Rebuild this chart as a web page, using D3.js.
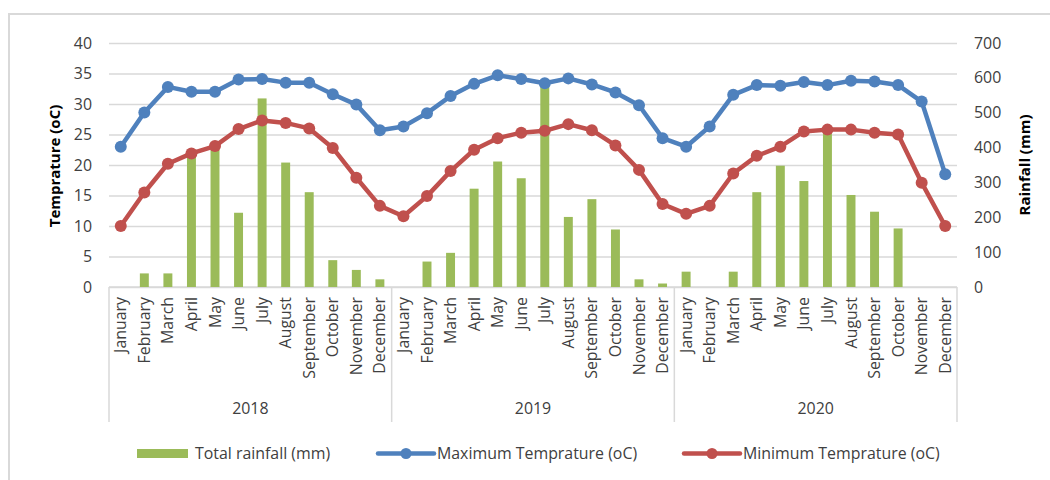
<!DOCTYPE html>
<html>
<head>
<meta charset="utf-8">
<script src="https://cdn.jsdelivr.net/npm/d3@7"></script>
<style>
  body { margin: 0; background: #fff; }
  svg { font-family: "Open Sans", sans-serif; }
</style>
</head>
<body>
<svg id="chart"></svg>
<script>
// Monthly climate data, 2018-2020
const years = ['2018', '2019', '2020'];
const months = ['January', 'February', 'March', 'April', 'May', 'June', 'July',
  'August', 'September', 'October', 'November', 'December'];

const rainfall = [
  0, 39, 39, 375, 395, 213, 541, 357, 272, 77, 49, 22,
  0, 73, 98, 282, 360, 312, 575, 201, 252, 165, 22, 10,
  44, 0, 44, 272, 348, 304, 445, 264, 216, 168, 0, 0
];
const maxTemp = [
  23.0, 28.6, 32.8, 32.0, 32.0, 34.0, 34.1, 33.5, 33.5, 31.6, 29.9, 25.7,
  26.3, 28.5, 31.3, 33.3, 34.7, 34.1, 33.4, 34.2, 33.2, 31.9, 29.8, 24.4,
  23.0, 26.3, 31.5, 33.1, 33.0, 33.6, 33.1, 33.8, 33.7, 33.1, 30.4, 18.5
];
const minTemp = [
  10.0, 15.5, 20.2, 21.9, 23.1, 25.9, 27.3, 26.9, 26.0, 22.8, 17.9, 13.3,
  11.6, 14.9, 19.0, 22.5, 24.4, 25.3, 25.6, 26.7, 25.7, 23.2, 19.2, 13.6,
  12.0, 13.3, 18.6, 21.5, 23.0, 25.5, 25.8, 25.8, 25.3, 25.0, 17.1, 10.0
];

const tempTicks = [0, 5, 10, 15, 20, 25, 30, 35, 40];
const rainTicks = [0, 100, 200, 300, 400, 500, 600, 700];

const seriesNames = ['Total rainfall (mm)', 'Maximum Temprature (oC)', 'Minimum Temprature (oC)'];
const colors = { rain: '#9BBB59', max: '#4F81BD', min: '#C0504D' };

const width = 1050, height = 480;
const plot = { left: 109, right: 957, top: 43, bottom: 287 };
const fontSize = '15.9px';

const svg = d3.select('#chart')
  .attr('width', width)
  .attr('height', height);

// Outer chart frame (runs off the right and bottom edge)
svg.append('path')
  .attr('d', `M9,${height + 5}V14H${width + 5}`)
  .attr('fill', 'none')
  .attr('stroke', '#D9D9D9')
  .attr('stroke-width', 2);

const cats = [];
years.forEach(y => months.forEach(m => cats.push({ year: y, month: m, key: `${y}-${m}` })));
cats.forEach((c, i) => {
  c.rain = rainfall[i];
  c.max = maxTemp[i];
  c.min = minTemp[i];
});

const x = d3.scaleBand()
  .domain(cats.map(c => c.key))
  .range([plot.left, plot.right])
  .paddingInner(0.62)
  .paddingOuter(0.31);
const cx = k => x(k) + x.bandwidth() / 2;
const step = x.step();

const yTemp = d3.scaleLinear().domain([0, 40]).range([plot.bottom, plot.top]);
const yRain = d3.scaleLinear().domain([0, 700]).range([plot.bottom, plot.top]);

// Grid lines
svg.append('g')
  .attr('transform', `translate(${plot.left},0)`)
  .call(d3.axisLeft(yTemp).tickValues(tempTicks).tickSize(-(plot.right - plot.left)).tickFormat(''))
  .call(g => g.select('.domain').remove())
  .call(g => g.selectAll('line').attr('stroke', '#D9D9D9').attr('stroke-width', 1.3));

// Left axis labels
svg.append('g')
  .attr('transform', `translate(${plot.left - 17},0)`)
  .call(d3.axisLeft(yTemp).tickValues(tempTicks).tickSize(0).tickPadding(0))
  .call(g => g.select('.domain').remove())
  .call(g => g.selectAll('text')
    .attr('font-size', fontSize)
    .attr('font-family', '"Open Sans", sans-serif')
    .attr('fill', '#404040'));

// Right axis labels
svg.append('g')
  .attr('transform', `translate(${plot.right + 17},0)`)
  .call(d3.axisRight(yRain).tickValues(rainTicks).tickSize(0).tickPadding(0))
  .call(g => g.select('.domain').remove())
  .call(g => g.selectAll('text')
    .attr('font-size', fontSize)
    .attr('font-family', '"Open Sans", sans-serif')
    .attr('fill', '#404040'));

// Axis titles
svg.append('text')
  .attr('transform', `translate(60,166) rotate(-90)`)
  .attr('text-anchor', 'middle')
  .attr('font-size', '15px')
  .attr('font-weight', 'bold')
  .attr('fill', '#000')
  .text('Temprature (oC)');

svg.append('text')
  .attr('transform', `translate(1030,165) rotate(-90)`)
  .attr('text-anchor', 'middle')
  .attr('font-size', '15px')
  .attr('font-weight', 'bold')
  .attr('fill', '#000')
  .text('Rainfall (mm)');

// Category axis: baseline + year separators
svg.append('line')
  .attr('x1', plot.left).attr('x2', plot.right)
  .attr('y1', plot.bottom).attr('y2', plot.bottom)
  .attr('stroke', '#D9D9D9').attr('stroke-width', 1.5);

d3.range(years.length + 1).forEach(i => {
  const xs = plot.left + i * months.length * step;
  svg.append('line')
    .attr('x1', xs).attr('x2', xs)
    .attr('y1', plot.bottom).attr('y2', 422)
    .attr('stroke', '#D9D9D9').attr('stroke-width', 1.5);
});

// Month labels
svg.append('g').selectAll('text')
  .data(cats)
  .join('text')
  .attr('transform', d => `translate(${cx(d.key)},297) rotate(-90)`)
  .attr('text-anchor', 'end')
  .attr('dy', '0.35em')
  .attr('font-size', fontSize)
  .attr('fill', '#404040')
  .text(d => d.month);

// Year labels
svg.append('g').selectAll('text')
  .data(years)
  .join('text')
  .attr('x', (d, i) => plot.left + (i + 0.5) * months.length * step)
  .attr('y', 414)
  .attr('text-anchor', 'middle')
  .attr('font-size', fontSize)
  .attr('fill', '#404040')
  .text(d => d);

// Rainfall bars
svg.append('g').selectAll('rect')
  .data(cats.filter(c => c.rain > 0))
  .join('rect')
  .attr('x', d => x(d.key))
  .attr('y', d => yRain(d.rain))
  .attr('width', x.bandwidth())
  .attr('height', d => yRain(0) - yRain(d.rain))
  .attr('fill', colors.rain);

// Temperature lines with markers
function drawSeries(field, color) {
  const line = d3.line()
    .x(d => cx(d.key))
    .y(d => yTemp(d[field]));

  svg.append('path')
    .datum(cats)
    .attr('fill', 'none')
    .attr('stroke', color)
    .attr('stroke-width', 4.5)
    .attr('stroke-linejoin', 'round')
    .attr('stroke-linecap', 'round')
    .attr('d', line);

  svg.append('g').selectAll('circle')
    .data(cats)
    .join('circle')
    .attr('cx', d => cx(d.key))
    .attr('cy', d => yTemp(d[field]))
    .attr('r', 6)
    .attr('fill', color);
}
drawSeries('max', colors.max);
drawSeries('min', colors.min);

// Legend
const legend = svg.append('g').attr('font-size', fontSize).attr('fill', '#404040');

legend.append('rect')
  .attr('x', 137).attr('y', 449)
  .attr('width', 51).attr('height', 9)
  .attr('fill', colors.rain);
legend.append('text')
  .attr('x', 195).attr('y', 459)
  .text(seriesNames[0]);

[[378, colors.max, seriesNames[1]], [684, colors.min, seriesNames[2]]].forEach(([lx, color, name]) => {
  legend.append('line')
    .attr('x1', lx).attr('x2', lx + 56)
    .attr('y1', 453.5).attr('y2', 453.5)
    .attr('stroke', color)
    .attr('stroke-width', 4.5)
    .attr('stroke-linecap', 'round');
  legend.append('circle')
    .attr('cx', lx + 28).attr('cy', 453.5)
    .attr('r', 5.5)
    .attr('fill', color);
  legend.append('text')
    .attr('x', lx + 59).attr('y', 459)
    .text(name);
});
</script>
</body>
</html>
